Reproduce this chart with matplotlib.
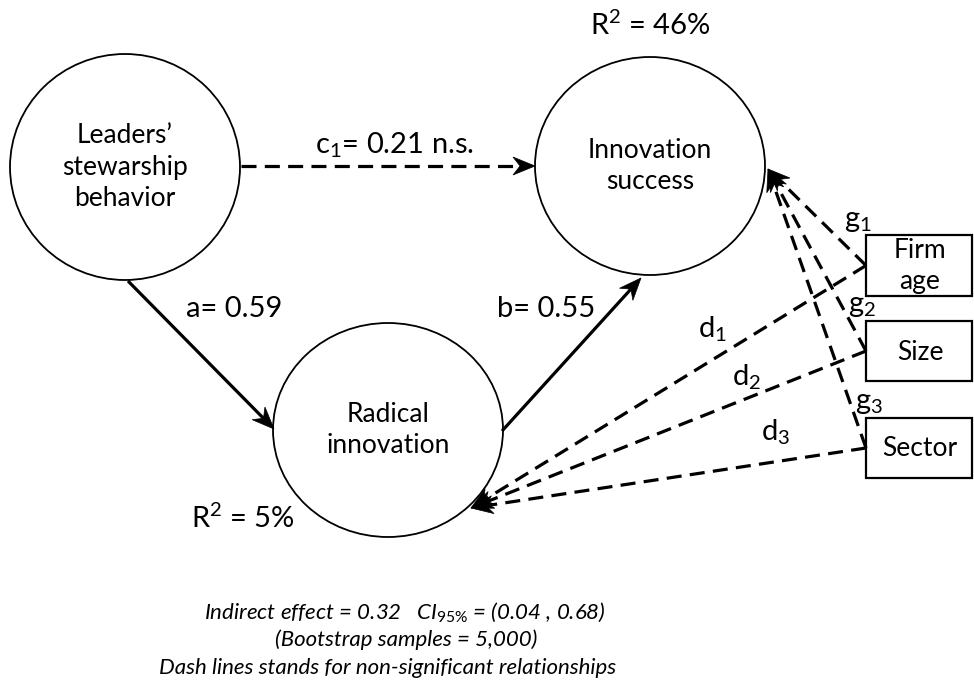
import matplotlib
matplotlib.use("Agg")
import matplotlib.pyplot as plt
from matplotlib.patches import Ellipse, Rectangle, Polygon
import numpy as np

plt.rcParams['font.family'] = ['Lato', 'DejaVu Sans']
plt.rcParams['mathtext.fontset'] = 'custom'
plt.rcParams['mathtext.rm'] = 'Lato'
plt.rcParams['mathtext.it'] = 'Lato:italic'
plt.rcParams['mathtext.bf'] = 'Lato:bold'

# ---- data ----
node_names = ["Leaders’\nstewarship\nbehavior", "Innovation\nsuccess", "Radical\ninnovation"]
node_cx = [125, 650, 388]
node_cy = [167, 166, 430]
node_rx = [115, 115, 115]
node_ry = [113, 109, 107]

box_names = ["Firm\nage", "Size", "Sector"]
box_y0 = [235, 321, 418]
box_y1 = [296, 381, 478]
box_x0 = 866
box_x1 = 972

coef_a = 0.59
coef_b = 0.55
coef_c1 = 0.21
r2_success = 46
r2_radical = 5
indirect = 0.32
ci_low, ci_high = 0.04, 0.68
boot_n = "5,000"

g_labels = ["g$_1$", "g$_2$", "g$_3$"]
g_label_pos = [(858, 221), (862, 306), (869, 403)]
d_labels = ["d$_1$", "d$_2$", "d$_3$"]
d_label_pos = [(712, 329), (747, 377), (776, 432)]

fig = plt.figure(figsize=(9.74, 6.92), dpi=100)
ax = fig.add_axes([0, 0, 1, 1])
ax.set_xlim(0, 974)
ax.set_ylim(692, 0)
ax.axis('off')

node_fs = 19
for name, cx, cy, rx, ry in zip(node_names, node_cx, node_cy, node_rx, node_ry):
    ax.add_patch(Ellipse((cx, cy), 2 * rx, 2 * ry, fill=False, ec='black', lw=1.3, zorder=2))
    ax.text(cx, cy, name, ha='center', va='center', fontsize=node_fs, linespacing=1.32, zorder=3)

for name, y0, y1 in zip(box_names, box_y0, box_y1):
    ax.add_patch(Rectangle((box_x0, y0), box_x1 - box_x0, y1 - y0, fill=False, ec='black', lw=1.6, zorder=2))
    ax.text((box_x0 + box_x1) / 2 + 1, (y0 + y1) / 2 + 1, name, ha='center', va='center',
            fontsize=node_fs, linespacing=1.3, zorder=3)


def arrowhead(tip, frm, L=22, W=9, back=7):
    tip = np.array(tip, float); frm = np.array(frm, float)
    d = tip - frm; d /= np.linalg.norm(d)
    n = np.array([-d[1], d[0]])
    base = tip - d * L
    p1 = base + n * W
    p2 = base - n * W
    notch = tip - d * (L - back)
    ax.add_patch(Polygon([tip, p1, notch, p2], closed=True, fc='black', ec='black', lw=0.5, zorder=4))
    return tip - d * (L - back)


def arrow(start, tip, dashed=False, lw=2.3):
    end = arrowhead(tip, start)
    ls = (0, (4.7, 2.6)) if dashed else '-'
    ax.plot([start[0], end[0]], [start[1], end[1]], color='black', lw=lw, ls=ls, zorder=3,
            solid_capstyle='butt', dash_capstyle='butt')

# c1 path
arrow((241, 166), (535, 166), dashed=True)
# a path
arrow((128, 281), (274, 429))
# b path
arrow((502, 431), (641, 278))

# g paths (controls -> innovation success)
tip_g = (768, 169)
for y0, y1 in zip(box_y0, box_y1):
    arrow((box_x0, (y0 + y1) / 2), tip_g, dashed=True)
# d paths (controls -> radical innovation)
tip_d = (471, 508)
for y0, y1 in zip(box_y0, box_y1):
    arrow((box_x0, (y0 + y1) / 2), tip_d, dashed=True)

fs = 21
ax.text(395, 145, f"c$_1$= {coef_c1:.2f} n.s.", ha='center', va='center', fontsize=fs)
ax.text(234, 309, f"a= {coef_a:.2f}", ha='center', va='center', fontsize=fs)
ax.text(546, 309, f"b= {coef_b:.2f}", ha='center', va='center', fontsize=fs)
ax.text(650, 25, f"R$^2$ = {r2_success}%", ha='center', va='center', fontsize=fs)
ax.text(243, 518, f"R$^2$ = {r2_radical}%", ha='center', va='center', fontsize=fs)

for lab, (x, y) in zip(g_labels, g_label_pos):
    ax.text(x, y, lab, ha='center', va='center', fontsize=fs)
for lab, (x, y) in zip(d_labels, d_label_pos):
    ax.text(x, y, lab, ha='center', va='center', fontsize=fs)

foot_fs = 16
ax.text(405, 612, f"Indirect effect = {indirect:.2f}   CI$_{{95\\%}}$ = ({ci_low:.2f} , {ci_high:.2f})",
        ha='center', va='center', fontsize=foot_fs, style='italic')
ax.text(406, 640, f"(Bootstrap samples = {boot_n})", ha='center', va='center', fontsize=foot_fs, style='italic')
ax.text(388, 668, "Dash lines stands for non-significant relationships", ha='center', va='center',
        fontsize=foot_fs, style='italic')

fig.savefig("out.png", dpi=100)
